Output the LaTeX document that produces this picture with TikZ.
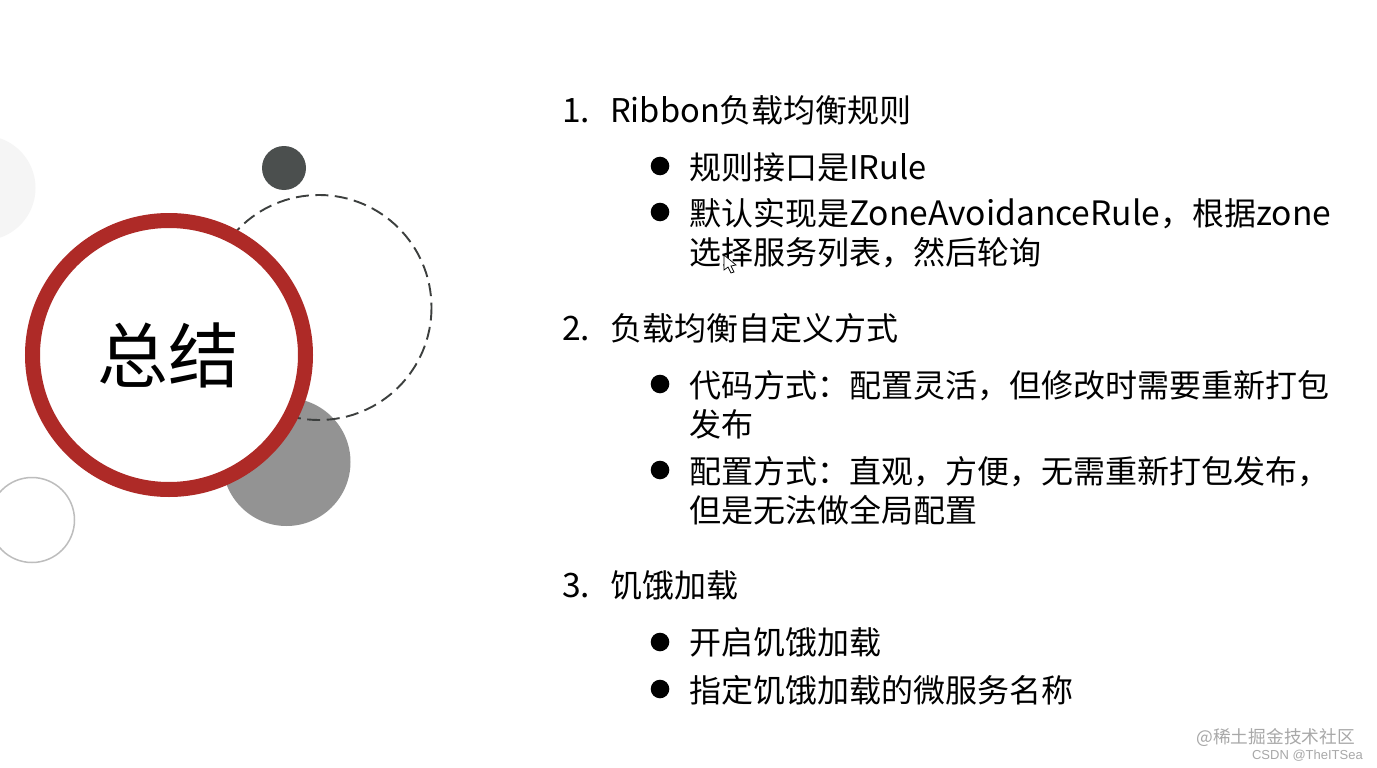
\documentclass[tikz,border=0pt]{standalone}
\usepackage{fontspec}
\usepackage{xcolor}
\setmainfont{Noto Sans CJK SC}
\newfontfamily\markfont{Liberation Sans}
\newfontfamily\latfont[Scale=1.05]{Noto Sans CJK SC}
\newfontfamily\latshort[Scale=1.02]{Noto Sans CJK SC}
\newcommand{\lat}[1]{{\latfont #1}}
\definecolor{ringred}{HTML}{AE2A27}
\definecolor{dotdark}{HTML}{4B4F4E}
\definecolor{dashdark}{HTML}{3C3F3E}
\definecolor{discgray}{HTML}{939393}
\definecolor{discpale}{HTML}{F5F5F5}
\definecolor{ringgray}{HTML}{BDBDBD}
\definecolor{markgray}{HTML}{A8A8A8}
\tikzset{
  line/.style={anchor=base west,inner sep=0pt,font=\fontsize{32}{38}\selectfont},
  title/.style={anchor=center,inner sep=0pt,font=\fontsize{71}{80}\selectfont},
}
\begin{document}
\begin{tikzpicture}[x=1pt,y=-1pt]
    \useasboundingbox (0,0) rectangle (1377,768);
    \fill[white] (0,0) rectangle (1377,768);
    % circles on the left
    \fill[discpale] (-17,188) circle (52.5);
    \draw[ringgray,line width=1.5pt] (32,520) circle (42.5);
    \fill[dotdark] (284,168) circle (22);
    \fill[discgray] (286.5,462) circle (64);
    \draw[dashdark,line width=1.9pt,dash pattern=on 13pt off 6.5pt] (319,307.5) circle (112.5);
    \draw[ringred,fill=white,line width=15pt] (169,355) ellipse (136.5 and 134.5);
    \node[title] (head) at (168,355) {总结};
    % first block
    \node[line] (one) at (562,122.5) {\lat{1.}};
    \node[line] (onetext) at (610,122.5) {{\latshort Ribbon}负载均衡规则};
    \node[line] (oneA) at (689,179.5) {规则接口是{\latshort IRule}};
    \node[line] (oneB) at (689,225.5) {默认实现是\lat{ZoneAvoidanceRule}，根据\lat{zone}};
    \node[line] (oneC) at (689,264.5) {选择服务列表，然后轮询};
    % second block
    \node[line] (two) at (562,340.5) {\lat{2.}};
    \node[line] (twotext) at (610,340.5) {负载均衡自定义方式};
    \node[line] (twoA) at (689,397.5) {代码方式：配置灵活，但修改时需要重新打包};
    \node[line] (twoB) at (689,436.5) {发布};
    \node[line] (twoC) at (689,483.5) {配置方式：直观，方便，无需重新打包发布，};
    \node[line] (twoD) at (689,522.5) {但是无法做全局配置};
    % third block
    \node[line] (three) at (562,597.5) {\lat{3.}};
    \node[line] (threetext) at (610,597.5) {饥饿加载};
    \node[line] (threeA) at (689,654.5) {开启饥饿加载};
    \node[line] (threeB) at (689,702.5) {指定饥饿加载的微服务名称};
    \foreach \p in {166,212,384,470,642,689}{
      \fill[black] (660,\p) circle (9.3);
      }
    % mouse pointer
    \draw[black,fill=white,line width=0.7pt] (724,255) -- (724,270) -- (728,267) -- (731,273) -- (734,272) -- (731,266) -- (736,265) -- cycle;
    % watermark
    \node[anchor=base east,inner sep=0pt,markgray,font=\fontsize{17.7}{20}\selectfont] (juejin) at (1355,743) {@稀土掘金技术社区};
    \node[anchor=base east,inner sep=0pt,markgray,font=\markfont\fontsize{13}{15}\selectfont] (csdn) at (1363,759) {CSDN @TheITSea};
  \end{tikzpicture}
\end{document}
